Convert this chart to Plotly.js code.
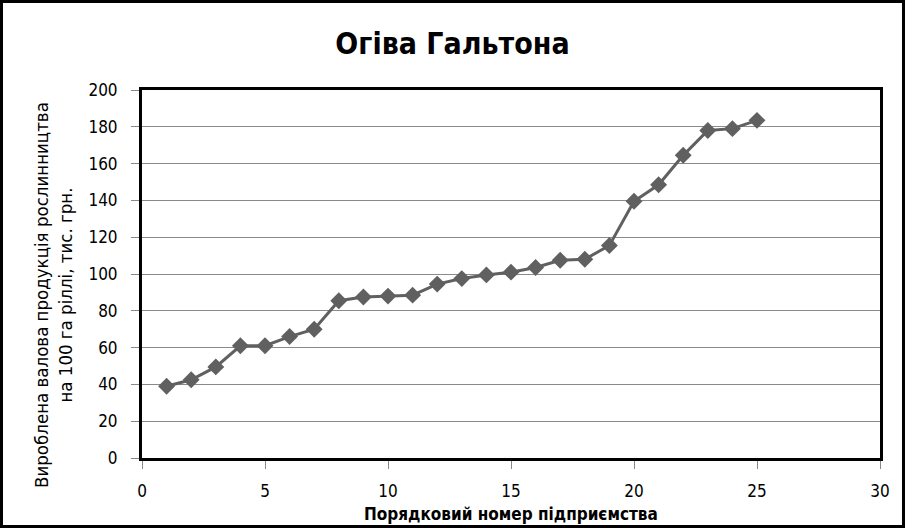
<!DOCTYPE html>
<html><head><meta charset="utf-8">
<script src="https://cdn.plot.ly/plotly-3.0.1.min.js"></script>
<style>
html,body{margin:0;padding:0;background:#fff;}
#wrap{position:relative;width:905px;height:528px;}
#frame{position:absolute;left:0;top:0;width:905px;height:528px;box-sizing:border-box;border:3px solid #000;pointer-events:none;}
</style></head>
<body><div id="wrap"><div id="chart" style="width:905px;height:528px;"></div><div id="frame"></div></div>
<script>
const enterpriseNo = [1,2,3,4,5,6,7,8,9,10,11,12,13,14,15,16,17,18,19,20,21,22,23,24,25];
const output = [39,42.5,49.5,61,61,66,70,85.5,87.5,88,88.5,94.5,97.5,99.5,101,103.5,107.5,108,115.5,139.5,148.5,164.5,178,179,183.5];
const xTicks = [0,5,10,15,20,25,30];
const chartTitle = 'Огіва Гальтона';
const xTitle = 'Порядковий номер підприємства';
const yTitle = 'Вироблена валова продукція рослинництва<br>на 100 га ріллі, тис. грн.';
const fontFam = '"Liberation Sans Narrow", "Arial Narrow", "DejaVu Sans Condensed", sans-serif';

const L = 142, R = 25, T = 90, B = 70, W = 905, H = 528;
const pw = W - L - R, ph = H - T - B;

const trace = {
  x: enterpriseNo, y: output, type: 'scatter', mode: 'lines+markers',
  line: {color: '#606060', width: 3},
  marker: {symbol: 'diamond', size: 13, color: '#606060'},
  hoverinfo: 'skip', showlegend: false
};
const layout = {
  width: W, height: H,
  margin: {l: L, r: R, t: T, b: B},
  paper_bgcolor: '#fff', plot_bgcolor: '#fff',
  font: {family: fontFam, size: 17, color: '#000'},
  title: {text: '<b>' + chartTitle + '</b>', font: {family: fontFam, size: 30, color: '#000'}, x: 0.5, xanchor: 'center', y: 0.918, yanchor: 'middle'},
  xaxis: {
    range: [0, 30], tickvals: xTicks, ticks: 'outside', ticklen: 8, tickcolor: '#888', tickwidth: 1,
    ticklabelstandoff: 8,
    showline: true, linecolor: '#000', linewidth: 3, mirror: true, showgrid: false, zeroline: false,
    tickfont: {size: 17}
  },
  yaxis: {
    range: [0, 200], dtick: 20, ticks: 'outside', ticklen: 8, tickcolor: '#888', tickwidth: 1,
    ticklabelstandoff: 10,
    showline: true, linecolor: '#000', linewidth: 3, mirror: true,
    showgrid: true, gridcolor: '#8a8a8a', gridwidth: 1, zeroline: false,
    tickfont: {size: 17}
  },
  annotations: [
    {text: '<b>' + xTitle + '</b>', xref: 'paper', yref: 'paper', x: 0.5, y: (458 - 514) / ph,
     xanchor: 'center', yanchor: 'middle', showarrow: false, font: {size: 17}},
    {text: yTitle, xref: 'paper', yref: 'paper', x: (53 - L) / pw, y: (458 - 295) / ph,
     xanchor: 'center', yanchor: 'middle', textangle: -90, showarrow: false, font: {size: 18.5}}
  ]
};
Plotly.newPlot('chart', [trace], layout, {staticPlot: true});
</script></body></html>
